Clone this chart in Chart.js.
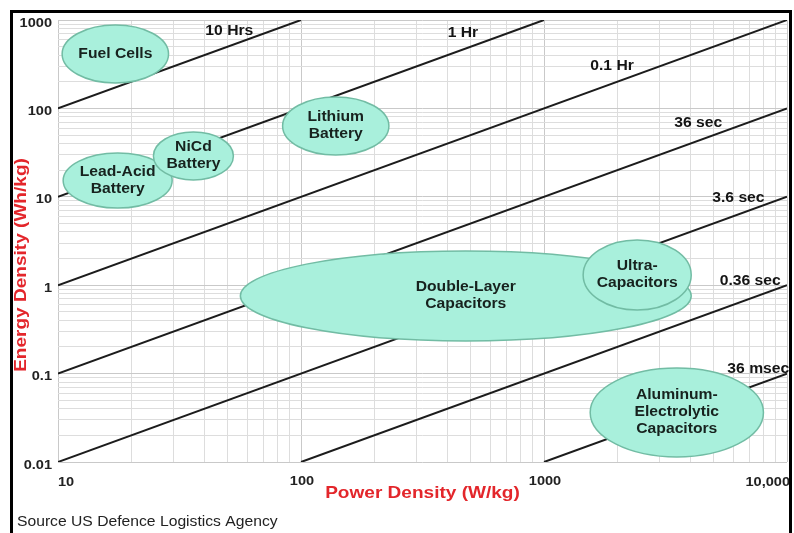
<!DOCTYPE html>
<html><head><meta charset="utf-8">
<script src="https://cdn.jsdelivr.net/npm/chart.js@4.4.1/dist/chart.umd.min.js"></script>
<style>html,body{margin:0;padding:0;background:#fff;}canvas{display:block;}</style>
</head><body>
<canvas id="c" width="794" height="533"></canvas>
<script>
// ---- constant discharge-time lines (Energy = Power x time) ----
const lineNames  = ['10 Hrs', '1 Hr', '0.1 Hr', '36 sec', '3.6 sec', '0.36 sec', '36 msec'];
const lineStartP = [10, 10, 10, 10, 10, 100, 1000];
const lineStartE = [100, 10, 1, 0.1, 0.01, 0.01, 0.01];
const lineEndP   = [100, 1000, 10000, 10000, 10000, 10000, 10000];
const lineEndE   = [1000, 1000, 1000, 100, 10, 1, 0.1];
const lineLabelP = [50.7, 464, 1905, 4315, 6310, 7060, 7620];
const lineLabelE = [751, 713, 302, 68, 9.7, 1.12, 0.113];

// ---- technology regions (bounds in W/kg and Wh/kg) ----
const techNames = [['Fuel Cells'], ['Lead-Acid', 'Battery'], ['NiCd', 'Battery'], ['Lithium', 'Battery'],
                   ['Double-Layer', 'Capacitors'], ['Ultra-', 'Capacitors'], ['Aluminum-', 'Electrolytic', 'Capacitors']];
const techPmin = [10.4, 10.5, 24.7, 84, 56.3, 1449, 1549];
const techPmax = [28.5, 29.5, 52.7, 230, 4035, 4035, 8000];
const techEmin = [194, 7.46, 15.5, 29.7, 0.234, 0.524, 0.0114];
const techEmax = [878, 31.3, 54.1, 134.5, 2.44, 3.25, 0.1156];

// ---- axes ----
const xTickValues = [10, 100, 1000, 10000];
const xTickLabels = ['10', '100', '1000', '10,000'];
const yTickValues = [1000, 100, 10, 1, 0.1, 0.01];
const yTickLabels = ['1000', '100', '10', '1', '0.1', '0.01'];
const gridSteps = [1, 2, 3, 4, 5, 6, 7, 8, 9];
const xTitle = 'Power Density (W/kg)';
const yTitle = 'Energy Density (Wh/kg)';
const sourceText = 'Source US Defence Logistics Agency';

const SX = 1.12;
const FONT = "'Liberation Sans', Arial, Helvetica, sans-serif";

function logTicks(min, max) {
  const t = [];
  for (let e = Math.round(Math.log10(min)); e <= Math.round(Math.log10(max)); e++) {
    for (const m of gridSteps) {
      const v = parseFloat((m * Math.pow(10, e)).toPrecision(6));
      if (v >= min * 0.999 && v <= max * 1.001) t.push({ value: v, major: m === 1 });
    }
  }
  return t;
}

function txt(ctx, s, x, y, font, color, align, rot) {
  ctx.save();
  ctx.translate(x, y);
  if (rot) ctx.rotate(rot);
  ctx.scale(SX, 1);
  ctx.font = font;
  ctx.fillStyle = color;
  ctx.textAlign = align;
  ctx.textBaseline = 'middle';
  ctx.fillText(s, 0, 0);
  ctx.restore();
}

const ragone = {
  id: 'ragone',
  beforeDraw(chart) {
    const ctx = chart.ctx;
    ctx.save();
    ctx.fillStyle = '#ffffff';
    ctx.fillRect(0, 0, chart.width, chart.height);
    ctx.restore();
  },
  afterDatasetsDraw(chart) {
    const ctx = chart.ctx;
    const xs = chart.scales.x, ys = chart.scales.y;
    // regions
    techNames.forEach((name, i) => {
      const x0 = xs.getPixelForValue(techPmin[i]), x1 = xs.getPixelForValue(techPmax[i]);
      const y0 = ys.getPixelForValue(techEmax[i]), y1 = ys.getPixelForValue(techEmin[i]);
      const cx = (x0 + x1) / 2, cy = (y0 + y1) / 2;
      ctx.save();
      ctx.beginPath();
      ctx.ellipse(cx, cy, (x1 - x0) / 2, (y1 - y0) / 2, 0, 0, Math.PI * 2);
      ctx.fillStyle = '#a9f0dc';
      ctx.fill();
      ctx.lineWidth = 1.5;
      ctx.strokeStyle = '#72bca4';
      ctx.stroke();
      ctx.restore();
    });
    techNames.forEach((name, i) => {
      const x0 = xs.getPixelForValue(techPmin[i]), x1 = xs.getPixelForValue(techPmax[i]);
      const y0 = ys.getPixelForValue(techEmax[i]), y1 = ys.getPixelForValue(techEmin[i]);
      const cx = (x0 + x1) / 2, cy = (y0 + y1) / 2;
      const lh = 17;
      name.forEach((ln, k) => {
        txt(ctx, ln, cx, cy - (name.length - 1) * lh / 2 + k * lh, 'bold 14px ' + FONT, '#17221e', 'center');
      });
    });
    // line labels
    lineNames.forEach((n, i) => {
      txt(ctx, n, xs.getPixelForValue(lineLabelP[i]), ys.getPixelForValue(lineLabelE[i]), 'bold 14px ' + FONT, '#141414', 'center');
    });
    // tick labels
    yTickValues.forEach((v, i) => {
      txt(ctx, yTickLabels[i], 52, ys.getPixelForValue(v) + 3, 'bold 13px ' + FONT, '#222', 'right');
    });
    xTickValues.forEach((v, i) => {
      const px = xs.getPixelForValue(v);
      if (i === 0) txt(ctx, xTickLabels[i], px, 482, 'bold 13px ' + FONT, '#222', 'left');
      else if (i === xTickValues.length - 1) txt(ctx, xTickLabels[i], px + 3, 482, 'bold 13px ' + FONT, '#222', 'right');
      else txt(ctx, xTickLabels[i], px + 1, 481, 'bold 13px ' + FONT, '#222', 'center');
    });
    // axis titles
    txt(ctx, xTitle, (xs.left + xs.right) / 2, 493, 'bold 17px ' + FONT, '#e3262b', 'center');
    txt(ctx, yTitle, 21, 265, 'bold 17px ' + FONT, '#e3262b', 'center', -Math.PI / 2);
    // source
    txt(ctx, sourceText, 17, 522, '14px ' + FONT, '#222', 'left');
    // frame
    ctx.save();
    ctx.fillStyle = '#000';
    ctx.fillRect(10, 10, 782, 3);
    ctx.fillRect(10, 10, 3, 523);
    ctx.fillRect(789, 10, 3, 523);
    ctx.restore();
  }
};

const majorColor = '#c9c9c9', minorColor = '#dddddd';

new Chart(document.getElementById('c'), {
  type: 'scatter',
  data: {
    datasets: lineNames.map((n, i) => ({
      label: n,
      data: [{ x: lineStartP[i], y: lineStartE[i] }, { x: lineEndP[i], y: lineEndE[i] }],
      showLine: true,
      borderColor: '#1c1c1c',
      borderWidth: 2,
      pointRadius: 0,
      fill: false
    }))
  },
  options: {
    responsive: false,
    animation: false,
    devicePixelRatio: 1,
    layout: { padding: { left: 58, right: 7, top: 20, bottom: 71 } },
    plugins: { legend: { display: false }, tooltip: { enabled: false } },
    scales: {
      x: {
        type: 'logarithmic', min: 10, max: 10000,
        afterBuildTicks: s => { s.ticks = logTicks(10, 10000); },
        ticks: { display: false },
        border: { display: false },
        grid: { drawTicks: false, lineWidth: 1, color: c => (c.tick && c.tick.major) ? majorColor : minorColor }
      },
      y: {
        type: 'logarithmic', min: 0.01, max: 1000,
        afterBuildTicks: s => { s.ticks = logTicks(0.01, 1000); },
        ticks: { display: false },
        border: { display: false },
        grid: { drawTicks: false, lineWidth: 1, color: c => (c.tick && c.tick.major) ? majorColor : minorColor }
      }
    }
  },
  plugins: [ragone]
});
</script>
</body></html>
